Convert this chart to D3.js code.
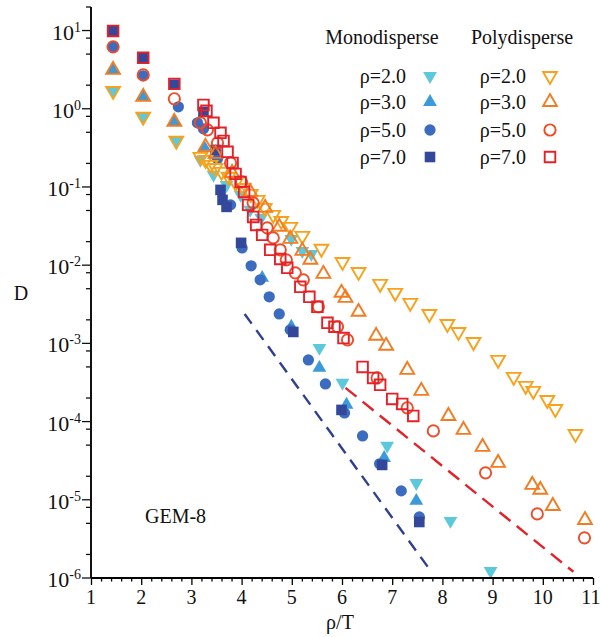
<!DOCTYPE html>
<html lang="en">
    <head>
        <meta charset="utf-8">
        <title>GEM-8 diffusion</title>
        <script type="text/javascript" src="https://cdn.jsdelivr.net/npm/d3@7/dist/d3.min.js"></script>
        <style>
            body { margin: 0; background: #fff; overflow: hidden; }
        </style>
    </head>
    <body>
        <script type="text/javascript">
        // values: [rho/T, D]
        var monoRho2 = [[1.44,1.69],[2.04,0.79],[2.70,0.39],[3.18,0.222],[3.44,0.143],[3.70,0.106],[3.98,0.0793],
            [4.17,0.051],[4.39,0.0403],[4.99,0.0217],[5.21,0.0152],[5.39,0.0139],[5.55,0.000875],[6.01,0.000313],
            [6.90,0.000049],[7.48,0.0000164],[8.16,0.00000537],[8.96,0.00000123]];
        var monoRho3 = [[1.44,3.14],[2.04,1.42],[2.66,0.68],[3.26,0.316],[3.48,0.257],[4.41,0.00689],[4.99,0.00163],
            [5.55,0.000486],[6.09,0.000164],[6.84,0.0000343],[7.48,0.0000097]];
        var monoRho5 = [[1.44,6.19],[2.04,2.64],[2.74,1.06],[3.12,0.66],[3.24,0.553],[3.52,0.229],[3.78,0.059],
            [4.01,0.0166],[4.19,0.0098],[4.37,0.00649],[4.55,0.00394],[4.75,0.00238],[4.97,0.00149],[5.33,0.000615],
            [5.67,0.000303],[6.05,0.000129],[6.41,0.0000656],[6.75,0.0000288],[7.18,0.000013],[7.54,0.00000604]];
        var monoRho7 = [[1.44,9.9],[2.04,4.48],[2.66,2.03],[3.24,0.91],[3.48,0.298],[3.58,0.0918],[3.62,0.0684],
            [3.70,0.0556],[3.99,0.0193],[5.03,0.0014],[5.99,0.000141],[6.80,0.0000279],[7.54,0.0000052]];

        var polyRho2 = [[1.44,1.69],[2.04,0.79],[2.70,0.39],[3.18,0.243],[3.28,0.222],[3.38,0.192],[3.48,0.175],
            [3.60,0.156],[3.74,0.135],[3.88,0.113],[4.04,0.097],[4.18,0.0816],[4.32,0.0684],[4.46,0.054],[4.63,0.044],
            [4.79,0.0368],[4.97,0.0309],[5.21,0.0237],[5.59,0.0162],[6.01,0.0110],[6.33,0.0082],[6.76,0.00577],
            [7.06,0.00443],[7.36,0.0033],[7.74,0.00238],[8.10,0.00177],[8.32,0.0014],[8.62,0.00104],[9.11,0.000615],
            [9.42,0.000373],[9.66,0.000286],[9.81,0.000247],[10.09,0.000189],[10.25,0.000145],[10.65,0.0000695]];
        var polyRho3 = [[1.44,3.14],[2.04,1.42],[2.66,0.68],[3.28,0.326],[3.48,0.265],[3.81,0.151],[4.17,0.0865],
            [4.47,0.054],[4.75,0.0309],[4.97,0.0217],[5.21,0.01524],[5.37,0.0117],[5.63,0.00774],[5.99,0.00443],
            [6.07,0.00382],[6.33,0.00253],[6.68,0.00125],[6.88,0.00093],[7.30,0.000458],[7.58,0.000247],
            [8.12,0.000118],[8.42,0.0000783],[8.80,0.0000475],[9.11,0.0000296],[9.79,0.0000155],[9.95,0.0000134],
            [10.20,0.00000834],[10.84,0.00000552]];
        var polyRho5 = [[1.44,6.19],[2.04,2.71],[2.66,1.34],[3.18,0.66],[3.32,0.537],[3.52,0.366],[3.78,0.203],
            [4.00,0.116],[4.23,0.0626],[4.51,0.030],[4.63,0.0223],[4.77,0.0157],[4.89,0.0117],[5.07,0.00798],
            [5.23,0.00649],[5.53,0.00293],[5.91,0.00163],[6.11,0.00111],[6.70,0.000362],[7.30,0.00015],
            [7.82,0.000076],[8.86,0.0000221],[9.89,0.0000066],[10.83,0.00000326]];
        var polyRho7 = [[1.44,9.9],[2.04,4.48],[2.66,2.08],[3.24,1.12],[3.30,0.94],[3.44,0.66],[3.58,0.492],
            [3.64,0.388],[3.72,0.281],[3.82,0.203],[3.88,0.147],[3.98,0.116],[4.05,0.0865],[4.13,0.059],[4.23,0.0414],
            [4.29,0.0327],[4.41,0.0244],[4.57,0.0157],[4.77,0.012],[4.91,0.00925],[5.17,0.00528],[5.35,0.00394],
            [5.51,0.00293],[5.71,0.00183],[5.85,0.00163],[6.03,0.00117],[6.41,0.0005],[6.62,0.000362],
            [6.76,0.000295],[7.00,0.000195],[7.20,0.000168],[7.42,0.000118]];

        // dashed guide lines
        var fitMono = [[4.06,0.00238],[7.78,0.0000012]];
        var fitPoly = [[6.07,0.00027],[10.61,0.0000012]];

        var legendLabels = ["ρ=2.0", "ρ=3.0", "ρ=5.0", "ρ=7.0"];
        var xTicks = [1, 2, 3, 4, 5, 6, 7, 8, 9, 10, 11];
        var yExponents = [1, 0, -1, -2, -3, -4, -5, -6];

        var w = 601;
        var h = 637;
        var plotLeft = 91, plotRight = 593, plotTop = 7, plotBottom = 578;
        var serif = "'Liberation Serif', 'Times New Roman', 'DejaVu Serif', serif";

        var x = d3.scaleLinear().domain([1, 11]).range([plotLeft, plotRight]);
        var y = d3.scaleLog().domain([1e-6, 20]).range([plotBottom, plotTop]);

        var monoColors = ["#5cc8dc", "#3b9ad9", "#3b6cbf", "#33479b"];
        var polyColors = ["#f8a21c", "#f47b20", "#ee4b27", "#e42128"];
        var shapes = ["down", "up", "circle", "square"];
        var monoSeries = [monoRho2, monoRho3, monoRho5, monoRho7];
        var polySeries = [polyRho2, polyRho3, polyRho5, polyRho7];

        var svg = d3.select("body")
                    .append("svg")
                    .attr("width", w)
                    .attr("height", h)
                    .attr("font-family", serif);

        var symbolPath = function(shape) {
            if (shape == "circle") return d3.symbol().type(d3.symbolCircle).size(100)();
            if (shape == "square") return d3.symbol().type(d3.symbolSquare).size(112)();
            return d3.symbol().type(d3.symbolTriangle).size(82)();
        };
        var symbolRotate = function(shape) {
            return shape == "down" ? " rotate(180)" : "";
        };

        // fit lines
        var line = d3.line()
            .x(function(d) { return x(d[0]); })
            .y(function(d) { return y(d[1]); });
        svg.append("path")
            .attr("d", line(fitMono))
            .attr("fill", "none")
            .attr("stroke", "#2f3f94")
            .attr("stroke-width", 2.4)
            .attr("stroke-dasharray", "12,8");
        svg.append("path")
            .attr("d", line(fitPoly))
            .attr("fill", "none")
            .attr("stroke", "#e42128")
            .attr("stroke-width", 2.4)
            .attr("stroke-dasharray", "14,8");

        // monodisperse: filled markers
        monoSeries.forEach(function(data, k) {
            svg.append("g").selectAll("path")
                .data(data)
                .enter()
                .append("path")
                .attr("d", symbolPath(shapes[k]))
                .attr("transform", function(d) {
                    return "translate(" + x(d[0]) + "," + y(d[1]) + ")" + symbolRotate(shapes[k]);
                })
                .attr("fill", monoColors[k]);
        });

        // polydisperse: open markers
        polySeries.forEach(function(data, k) {
            svg.append("g").selectAll("path")
                .data(data)
                .enter()
                .append("path")
                .attr("d", symbolPath(shapes[k]))
                .attr("transform", function(d) {
                    return "translate(" + x(d[0]) + "," + y(d[1]) + ")" + symbolRotate(shapes[k]);
                })
                .attr("fill", "none")
                .attr("stroke", polyColors[k])
                .attr("stroke-width", 1.9);
        });

        // x axis
        var xAxis = d3.axisBottom(x)
            .tickValues(d3.range(1, 11.001, 0.2))
            .tickSize(3)
            .tickFormat("");
        var gx = svg.append("g")
            .attr("transform", "translate(0," + plotBottom + ")")
            .call(xAxis);
        gx.selectAll(".tick line")
            .attr("y2", function(d) { return Math.abs(d - Math.round(d)) < 1e-6 ? 7 : 3.5; })
            .attr("stroke-width", 1.3);
        gx.select(".domain").attr("stroke-width", 2).attr("d", "M" + plotLeft + ",0H" + plotRight);
        gx.selectAll(".major")
            .data(xTicks)
            .enter()
            .append("text")
            .attr("x", function(d) { return d == 11 ? x(d) - 2 : x(d); })
            .attr("y", 26)
            .attr("text-anchor", "middle")
            .attr("font-family", serif)
            .attr("font-size", "20px")
            .attr("fill", "#111")
            .text(function(d) { return d; });

        // y axis, minor ticks at 2, 5 and 8 of each decade
        var yMinor = [];
        for (var e = -6; e <= 1; e++) {
            [2, 5, 8].forEach(function(m) {
                var v = m * Math.pow(10, e);
                if (v <= 20) yMinor.push(v);
            });
        }
        var gy = svg.append("g")
            .attr("transform", "translate(" + plotLeft + ",0)");
        gy.append("line")
            .attr("y1", plotTop).attr("y2", plotBottom)
            .attr("stroke", "#111").attr("stroke-width", 2);
        gy.selectAll(".minor")
            .data(yMinor)
            .enter()
            .append("line")
            .attr("x1", -5).attr("x2", 0)
            .attr("y1", function(d) { return y(d); })
            .attr("y2", function(d) { return y(d); })
            .attr("stroke", "#111").attr("stroke-width", 1.3);
        gy.selectAll(".majorTick")
            .data(yExponents)
            .enter()
            .append("line")
            .attr("x1", -9).attr("x2", 0)
            .attr("y1", function(d) { return y(Math.pow(10, d)); })
            .attr("y2", function(d) { return y(Math.pow(10, d)); })
            .attr("stroke", "#111").attr("stroke-width", 1.3);
        var yLabels = gy.selectAll(".ylab")
            .data(yExponents)
            .enter()
            .append("text")
            .attr("x", -10)
            .attr("y", function(d) { return y(Math.pow(10, d)) + 9; })
            .attr("text-anchor", "end")
            .attr("fill", "#111")
            .attr("font-size", "22px");
        yLabels.append("tspan").text("10");
        yLabels.append("tspan")
            .attr("font-size", "14px")
            .attr("dy", -8)
            .text(function(d) { return d < 0 ? "-" + (-d) : d; });

        // axis titles
        svg.append("text")
            .attr("x", 21).attr("y", 300)
            .attr("text-anchor", "middle")
            .attr("font-size", "20px")
            .attr("fill", "#111")
            .text("D");
        svg.append("text")
            .attr("x", 340).attr("y", 629)
            .attr("text-anchor", "middle")
            .attr("font-size", "20px")
            .attr("fill", "#111")
            .text("ρ/T");
        svg.append("text")
            .attr("x", 145).attr("y", 523)
            .attr("font-size", "20px")
            .attr("fill", "#111")
            .text("GEM-8");

        // legend
        var legend = svg.append("g").attr("fill", "#111");
        legend.append("text").attr("x", 382).attr("y", 44)
            .attr("text-anchor", "middle").attr("font-size", "20px").text("Monodisperse");
        legend.append("text").attr("x", 522).attr("y", 44)
            .attr("text-anchor", "middle").attr("font-size", "20px").text("Polydisperse");
        var rowY = [76, 102, 130, 157];
        legendLabels.forEach(function(lab, k) {
            legend.append("text").attr("x", 406).attr("y", rowY[k] + 7)
                .attr("text-anchor", "end").attr("font-size", "20px").text(lab);
            legend.append("text").attr("x", 526).attr("y", rowY[k] + 7)
                .attr("text-anchor", "end").attr("font-size", "20px").text(lab);
            legend.append("path")
                .attr("d", symbolPath(shapes[k]))
                .attr("transform", "translate(430," + rowY[k] + ")" + symbolRotate(shapes[k]))
                .attr("fill", monoColors[k]);
            legend.append("path")
                .attr("d", symbolPath(shapes[k]))
                .attr("transform", "translate(550," + rowY[k] + ")" + symbolRotate(shapes[k]))
                .attr("fill", "none")
                .attr("stroke", polyColors[k])
                .attr("stroke-width", 1.9);
        });
        </script>
    </body>
</html>
